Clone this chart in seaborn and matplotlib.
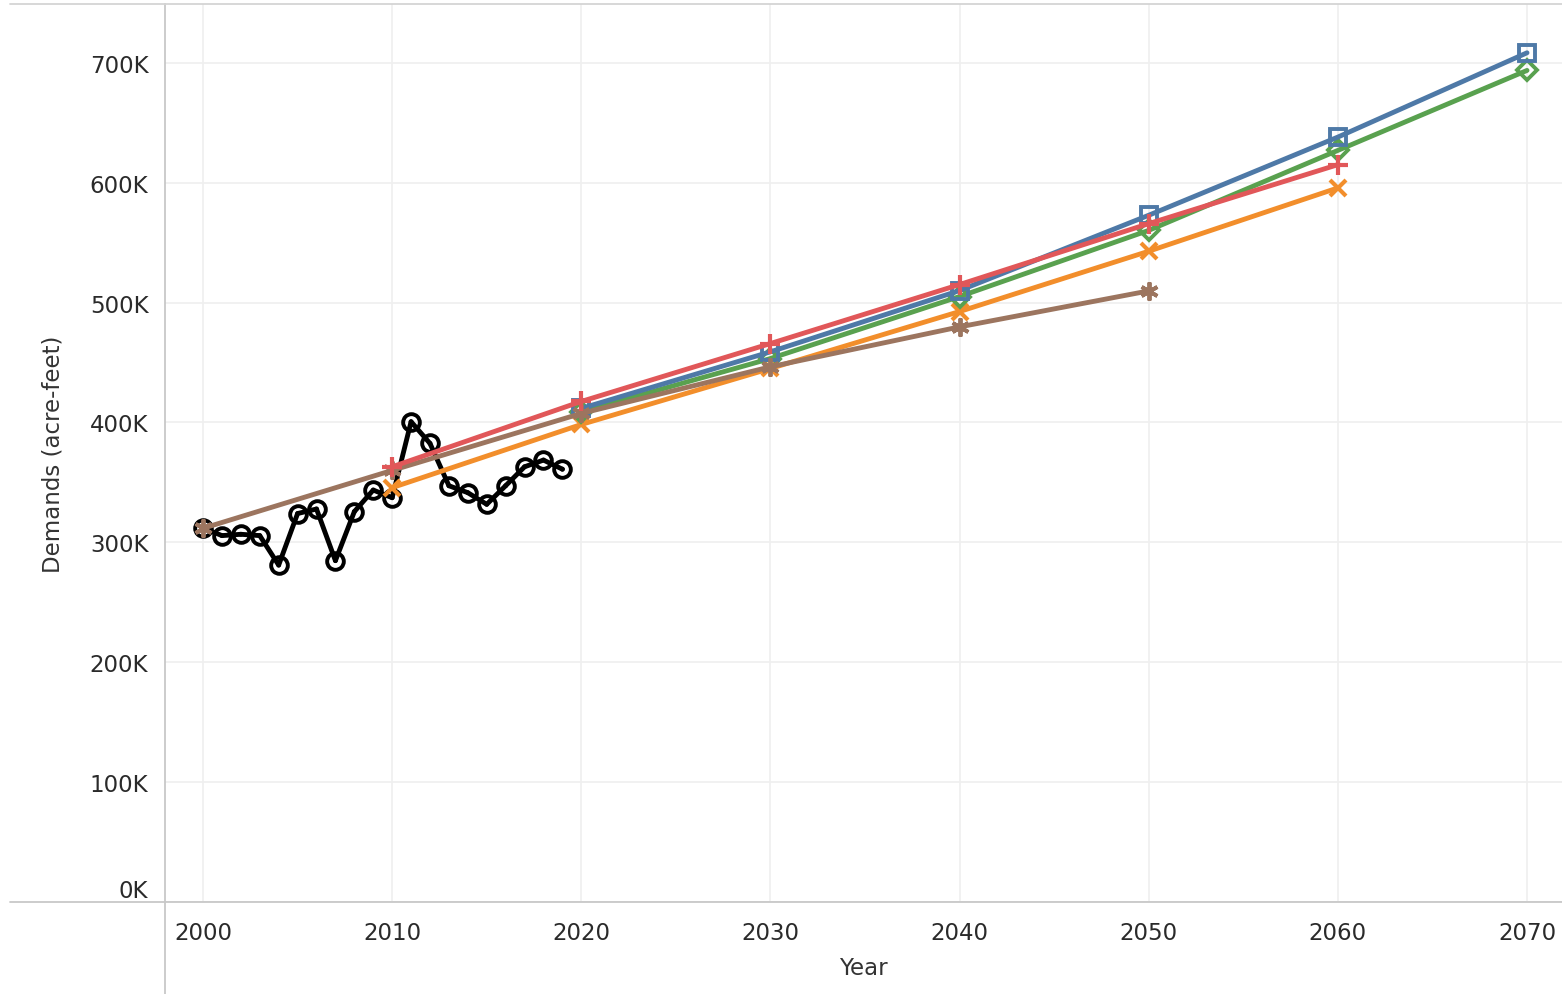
import matplotlib
matplotlib.use("Agg")
import matplotlib.pyplot as plt
from matplotlib.lines import Line2D
from matplotlib.ticker import FuncFormatter
import numpy as np
import pandas as pd
import seaborn as sns

# historical demand (acre-feet)
hist_years = list(range(2000, 2020))
hist_vals = [312000, 305600, 306700, 305600, 281000, 324000, 327800, 284700, 325600, 343600,
             337200, 400600, 382500, 347200, 341400, 331700, 347200, 363000, 368600, 361000]

# projections
blue_years = [2020, 2030, 2040, 2050, 2060, 2070]
blue_vals = [411700, 458900, 510000, 572800, 638000, 708300]
green_years = [2020, 2030, 2040, 2050, 2060, 2070]
green_vals = [409000, 453300, 505000, 560200, 626900, 693600]
red_years = [2010, 2020, 2030, 2040, 2050, 2060]
red_vals = [363000, 417500, 465800, 515000, 565800, 615000]
orange_years = [2010, 2020, 2030, 2040, 2050, 2060]
orange_vals = [345600, 398300, 445000, 492500, 542800, 595600]
brown_years = [2000, 2010, 2020, 2030, 2040, 2050]
brown_vals = [311700, 360000, 407500, 446400, 479700, 509700]

sns.set_theme(style="white")
plt.rcParams["font.family"] = ["DejaVu Sans"]

fig = plt.figure(figsize=(15.62, 9.95), dpi=100)
W, H = 1562, 995
ax = fig.add_axes([165 / W, 1 - 903 / H, (1562 - 165) / W, (903 - 5) / H])

lw = 3.5
series = [
    (orange_years, orange_vals, "#f28e2b", "x", 12, 3.0),
    (green_years, green_vals, "#59a14f", "D", 10, 2.8),
    (blue_years, blue_vals, "#4e79a7", "s", 11, 2.8),
    (brown_years, brown_vals, "#9c755f", (6, 2, 0), 13, 2.8),
    (red_years, red_vals, "#e15759", "+", 15, 3.0),
]

sns.lineplot(x=hist_years, y=hist_vals, ax=ax, color="black", lw=lw, marker="o",
             markersize=12, markerfacecolor="none", markeredgecolor="black",
             markeredgewidth=2.8, zorder=3)
sns.scatterplot(x=hist_years, y=hist_vals, ax=ax, color="black", s=12,
                edgecolor="none", zorder=3.1)

for i, (xs, ys, c, m, ms, mew) in enumerate(series):
    sns.lineplot(x=xs, y=ys, ax=ax, color=c, lw=lw, marker=m, markersize=ms,
                 markerfacecolor="none", markeredgecolor=c, markeredgewidth=mew,
                 zorder=4 + i)

ax.set_xlim(1997.99, 2071.85)
ax.set_ylim(0, 749000)
ax.set_xticks(range(2000, 2071, 10))
ax.set_yticks(range(0, 700001, 100000))
ax.yaxis.set_major_formatter(FuncFormatter(lambda v, p: f"{int(v / 1000)}K"))
ax.grid(True, color="#efefef", lw=1.2)
ax.set_axisbelow(True)
ax.tick_params(axis="both", labelsize=16.5, colors="#2a2a2a", length=0)
ax.tick_params(axis="y", pad=12)
ax.tick_params(axis="x", pad=14)

ax.spines["right"].set_visible(False)
for s in ["left", "bottom", "top"]:
    ax.spines[s].set_color("#c8c8c8")
    ax.spines[s].set_linewidth(1.3)
ax.spines["top"].set_color("#d4d4d4")

# 0K label sits inside the axis like the original
ylabels = ax.get_yticklabels()
ylabels[0].set_verticalalignment("bottom")

ax.set_xlabel("Year", fontsize=16.5, color="#333333", labelpad=8)
ax.set_ylabel("Demands (acre-feet)", fontsize=16.5, color="#333333", labelpad=18)

# extended axis rules
fig.add_artist(Line2D([10 / W, 165 / W], [1 - 903 / H, 1 - 903 / H], color="#c8c8c8", lw=1.3))
fig.add_artist(Line2D([165 / W, 165 / W], [0, 1 - 903 / H], color="#c8c8c8", lw=1.3))
fig.add_artist(Line2D([10 / W, 165 / W], [1 - 5 / H, 1 - 5 / H], color="#d4d4d4", lw=1.3))

fig.savefig("out.png", dpi=100)
